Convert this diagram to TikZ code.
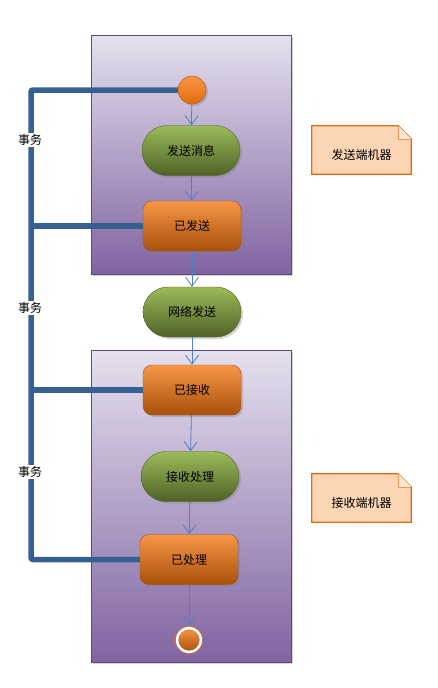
\documentclass[tikz,border=0pt]{standalone}
\usepackage{fontspec}
\newfontfamily\cjk{Noto Sans CJK SC}
\usetikzlibrary{arrows.meta,shadows}
\definecolor{boxtop}{HTML}{E6E0EE}
\definecolor{boxbot}{HTML}{8064A2}
\definecolor{boxline}{HTML}{5F497A}
\definecolor{ortop}{HTML}{F79646}
\definecolor{ormid}{HTML}{E36C09}
\definecolor{orbot}{HTML}{A8500A}
\definecolor{grtop}{HTML}{9BBB59}
\definecolor{grbot}{HTML}{4F6228}
\definecolor{flow}{HTML}{4F81BD}
\definecolor{trans}{HTML}{376092}
\definecolor{notefill}{HTML}{FCD5B4}
\tikzset{
  machine/.style = {draw=boxline, top color=boxtop, bottom color=boxbot,
    minimum width=200, minimum height=#1, inner sep=0pt,
    drop shadow={opacity=0.35, shadow xshift=2pt, shadow yshift=-2pt}},
  state/.style = {draw=orbot, top color=ortop, middle color=ormid, bottom color=orbot,
    rounded corners=9pt, minimum width=98, minimum height=50, font=\cjk\fontsize{12}{14}\selectfont,
    drop shadow={opacity=0.35, shadow xshift=2pt, shadow yshift=-2pt}},
  action/.style = {draw=grbot, top color=grtop, bottom color=grbot,
    rounded corners=25pt, minimum width=98, minimum height=50, font=\cjk\fontsize{12}{14}\selectfont,
    drop shadow={opacity=0.35, shadow xshift=2pt, shadow yshift=-2pt}},
  flowarrow/.style = {draw=flow, thick, -{Straight Barb[length=9pt,width=13pt]}},
  txline/.style = {draw=trans, line width=5.5pt, rounded corners=2pt},
  txlabel/.style = {fill=white, inner sep=1pt, font=\cjk\fontsize{12}{14}\selectfont},
  notebox/.style = {minimum width=99, minimum height=48, font=\cjk\fontsize{12}{14}\selectfont},
}
\begin{document}
\begin{tikzpicture}[x=1pt,y=-1pt]
    \useasboundingbox (0,0) rectangle (437,688);
    % machines
    \node[machine=239] (sendbox) at (191,154.5) {};
    \node[machine=312] (recvbox) at (191,506) {};
    % states and actions
    \node[circle, draw=orbot, top color=ortop, bottom color=ormid, minimum size=28, inner sep=0pt,
      drop shadow={opacity=0.35, shadow xshift=2pt, shadow yshift=-2pt}] (start) at (192,90) {};
    \node[action] (sendmsg) at (191,150.5) {发送消息};
    \node[state] (sent) at (192,226) {已发送};
    \node[action] (netsend) at (192,312) {网络发送};
    \node[state] (recvd) at (192,390) {已接收};
    \node[action] (handle) at (190,476.5) {接收处理};
    \node[state] (done) at (189,559.5) {已处理};
    \node[circle, draw=white, line width=2.5pt, top color=ortop, bottom color=orbot,
      minimum size=24, inner sep=0pt] (stop) at (189,640) {};
    \draw[ormid, thin] (stop) circle (14.5);
    % flow
    \draw[flowarrow] (start) -- (sendmsg);
    \draw[flowarrow] (sendmsg) -- (sent);
    \draw[flowarrow] (sent) -- (netsend);
    \draw[flowarrow] (netsend) -- (recvd);
    \draw[flowarrow] (recvd) -- (handle);
    \draw[flowarrow] (handle) -- (done);
    \draw[flowarrow] (done) -- ([yshift=1.5pt]stop.north);
    % transactions
    \coordinate (txtop) at (31,90);
    \coordinate (txbot) at (31,559.5);
    \draw[txline] (start.west) -- (txtop) -- (txbot) -- (done.west);
    \draw[txline] (txtop |- sent.west) -- (sent.west);
    \draw[txline] (txtop |- recvd.west) -- (recvd.west);
    \node[txlabel] (tx1) at (30,140) {事务};
    \node[txlabel] (tx2) at (30,308) {事务};
    \node[txlabel] (tx3) at (30,472) {事务};
    % notes
    \node[notebox] (sendnote) at (361.5,150) {};
    \node[notebox] (recvnote) at (361.5,498) {};
    \foreach \n in {sendnote,recvnote} {
      \draw[ormid, line width=1.2pt, fill=notefill] (\n.north west) -- ([xshift=-13pt]\n.north east)
        -- ([yshift=-13pt]\n.north east) -- (\n.south east) -- (\n.south west) -- cycle;
      \draw[ormid!70, fill=notefill!60] ([xshift=-13pt]\n.north east) -- ([xshift=-13pt,yshift=-13pt]\n.north east)
        -- ([yshift=-13pt]\n.north east);
    }
    \node[notebox] at ([yshift=-5pt]sendnote.center) {发送端机器};
    \node[notebox] at ([yshift=-5pt]recvnote.center) {接收端机器};
\end{tikzpicture}
\end{document}
